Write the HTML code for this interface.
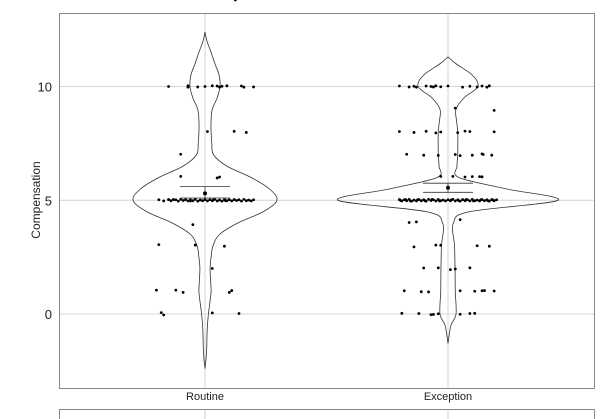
<!DOCTYPE html>
<html><head><meta charset="utf-8"><style>
body{margin:0;background:#fff;}
svg{display:block;font-family:"Liberation Sans",Arial,sans-serif;}
</style></head><body>
<svg id="chart" width="604" height="419" viewBox="0 0 604 419"></svg>
<script>
const categories=["Routine","Exception"];
const yTicks=[0,5,10];
const routineDensV=[12.4,12,11.5,11,10.5,10,9.5,9,8.5,8,7.5,7,6.5,6,5.5,5,4.5,4,3.5,3,2.5,2,1.5,1,0.5,0,-0.5,-1,-1.5,-2,-2.4];
const routineDensW=[0,0.008,0.025,0.041,0.058,0.062,0.05,0.03,0.025,0.025,0.028,0.035,0.09,0.19,0.265,0.296,0.24,0.135,0.06,0.033,0.025,0.021,0.023,0.025,0.02,0.014,0.01,0.008,0.007,0.004,0];
const exceptionDensV=[11.3,11,10.5,10,9.5,9,8.5,8,7,6.5,6,5.5,5,4.5,4,3,2,1,0,-0.5,-1.3];
const exceptionDensW=[0,0.033,0.1,0.123,0.066,0.033,0.035,0.04,0.04,0.037,0.045,0.24,0.453,0.09,0.022,0.027,0.029,0.03,0.033,0.012,0];
const routineJit=[-0.15,-0.07,-0.07,-0.03,0,0.03,0.05,0.06,0.07,0.09,0.15,0.16,0.2, 0.01,0.12,0.17, -0.1, -0.1,0.05,0.06, -0.05, -0.19,-0.04,0.08, 0.03, -0.2,-0.12,-0.09,0.1,0.11, -0.18,-0.17,0.03,0.14,
-0.19,-0.17,-0.15,-0.14,-0.12,-0.11,-0.1,-0.09,-0.08,-0.07,-0.06,-0.05,-0.04,-0.03,-0.02,-0.01,0,0.01,0.02,0.03,0.04,0.05,0.06,0.07,0.08,0.09,0.1,0.11,0.12,0.13,0.14,0.15,0.16,0.17,0.18,0.19,0.2,-0.13,-0.06,0.035,0.085,0.125];
const routineVal=[10,10.03,9.97,9.98,10,10.03,10.02,9.97,10.01,10.03,10.02,9.97,9.98, 8.02,8.03,7.98, 7.02, 6.05,5.98,6.02, 3.93, 3.05,3.03,2.98, 2, 1.05,1.05,0.95,0.95,1.03, 0.06,-0.04,0.05,0.02,
5.02,4.97,5.03,4.98,5.02,4.96,5.04,4.99,5.03,4.97,5.02,4.98,5.04,4.96,5.01,4.98,5.03,4.97,5.02,4.98,5.04,4.97,5.01,4.96,5.03,4.98,5.02,4.97,5.03,4.99,5.02,4.96,5.04,4.98,5.01,4.97,5.02,5.03,4.97,5.02,4.98];
const exceptionJit=[-0.2,-0.16,-0.14,-0.13,-0.09,-0.07,-0.06,-0.05,-0.03,0,0.06,0.09,0.12,0.14,0.16,0.17, 0.03,0.19, -0.2,-0.14,-0.09,-0.05,-0.03,0.04,0.07,0.09,0.19, -0.17,-0.1,-0.04,0.03,0.05,0.1,0.14,0.145,0.18, -0.03,0.02,0.07,0.1,0.13,0.14, -0.16,-0.13,0.05, -0.14,-0.05,-0.03,0.12,0.17, -0.1,-0.04,0.01,0.03,0.09, -0.18,-0.11,-0.08,0.05,0.11,0.14,0.15,0.19, -0.19,-0.12,-0.07,-0.06,-0.04,0.05,0.09,0.11,
-0.2,-0.19,-0.18,-0.17,-0.16,-0.15,-0.14,-0.13,-0.12,-0.11,-0.1,-0.09,-0.08,-0.07,-0.06,-0.05,-0.04,-0.03,-0.02,-0.01,0,0.01,0.02,0.03,0.04,0.05,0.06,0.07,0.08,0.09,0.1,0.11,0.12,0.13,0.14,0.15,0.16,0.17,0.18,0.19,0.2,-0.195,-0.175,-0.155,-0.125,-0.095,-0.065,-0.035,0.015,0.045,0.075,0.105,0.135,0.165,0.185];
const exceptionVal=[10.02,9.98,10.01,9.97,10.02,10,9.98,10.03,9.99,10.02,9.97,10.01,9.98,10.02,9.97,10.03, 9.05,8.95, 8.02,7.98,8.03,7.96,8,7.97,8.04,8.02,8.01, 7.02,6.98,6.97,7.01,6.96,6.98,7.04,7.01,6.98, 6.05,6.05,6.02,6.04,6.04,6.03, 4.02,4.05,4.15, 2.95,3.03,3.02,3,2.98, 2.02,2.03,1.95,1.98,2.03, 1.02,0.98,0.97,1.02,1,1.02,1.03,1.01, 0.03,0.02,-0.03,-0.02,0.01,-0.01,0.02,0.03,
5.03,4.97,5.02,4.98,5.04,4.96,5.01,4.97,5.03,4.98,5.02,4.96,5.04,4.99,5.02,4.97,5.03,4.98,5.01,4.97,5.02,4.98,5.04,4.97,5.02,4.96,5.03,4.98,5.02,4.97,5.04,4.98,5.01,4.97,5.03,4.98,5.02,4.96,5.03,4.98,5.02,4.99,5.03,4.97,5.02,4.98,5.04,4.97,5.02,4.98,5.03,4.97,5.02,4.98,5.01];
const meanVals=[5.3,5.55];
const ciHigh=[5.6,5.75];
const ciLow=[5.1,5.35];

const NS="http://www.w3.org/2000/svg";
const svg=document.getElementById("chart");
const L=59,R=594,T=13,B=388;
const catCenters=[205,448],catW=243;
const xPos=(i,j)=>catCenters[i]+j*catW;
const y=v=>314-v*22.75;
function mk(tag,attrs,parent){const e=document.createElementNS(NS,tag);for(const k in attrs)e.setAttribute(k,attrs[k]);(parent||svg).appendChild(e);return e;}

// bottom partial panel
const bp=mk("g",{});


mk("line",{x1:L,x2:R,y1:409.5,y2:409.5,stroke:"#888","stroke-width":1},bp);
mk("line",{x1:L+0.5,x2:L+0.5,y1:409,y2:419,stroke:"#888"},bp);
mk("line",{x1:R+0.5,x2:R+0.5,y1:409,y2:419,stroke:"#888"},bp);
catCenters.forEach(c=>mk("line",{x1:c,x2:c,y1:410,y2:419,stroke:"#ccc"},bp));

// grid
const grid=mk("g",{});


yTicks.forEach(t=>mk("line",{x1:L,x2:R,y1:y(t),y2:y(t),stroke:"#d4d4d4","stroke-width":1},grid));
catCenters.forEach(c=>mk("line",{x1:c,x2:c,y1:T,y2:B,stroke:"#d4d4d4","stroke-width":1},grid));

function smoothPath(pts){
  let d="M"+pts[0][0]+","+pts[0][1];
  for(let i=0;i<pts.length-1;i++){
    const p0=pts[Math.max(i-1,0)],p1=pts[i],p2=pts[i+1],p3=pts[Math.min(i+2,pts.length-1)];
    const c1=[p1[0]+(p2[0]-p0[0])/6,p1[1]+(p2[1]-p0[1])/6];
    const c2=[p2[0]-(p3[0]-p1[0])/6,p2[1]-(p3[1]-p1[1])/6];
    d+=" C"+c1[0]+","+c1[1]+" "+c2[0]+","+c2[1]+" "+p2[0]+","+p2[1];
  }
  return d;
}
function violin(i,vs,ws,name){
  const right=vs.map((v,k)=>[xPos(i,ws[k]),y(v)]);
  const left=vs.map((v,k)=>[xPos(i,-ws[k]),y(v)]).reverse();
  const d=smoothPath(right)+" "+smoothPath(left).replace(/^M/,"L")+" Z";
  const p=mk("path",{d:d,fill:"none",stroke:"#333","stroke-width":0.8});
  
  
}
violin(0,routineDensV,routineDensW,'violin-routine');
violin(1,exceptionDensV,exceptionDensW,'violin-exception');

function dots(i,js,vs,name){
  const g=mk("g",{});
  
  
  js.forEach((j,k)=>{const c=mk("circle",{cx:xPos(i,j),cy:y(vs[k]),r:1.4,fill:"#000"},g);
    
    });
}
dots(0,routineJit,routineVal,'points-routine');
dots(1,exceptionJit,exceptionVal,'points-exception');

meanVals.forEach((m,i)=>{
  const g=mk("g",{});
  
  
  const c=catCenters[i];
  mk("line",{x1:c-25,x2:c+25,y1:y(ciHigh[i]),y2:y(ciHigh[i]),stroke:"#333","stroke-width":0.8},g);
  mk("line",{x1:c-25,x2:c+25,y1:y(ciLow[i]),y2:y(ciLow[i]),stroke:"#333","stroke-width":0.8},g);
  mk("line",{x1:c,x2:c,y1:y(ciHigh[i]),y2:y(ciLow[i]),stroke:"#333","stroke-width":0.8},g);
  mk("circle",{cx:c,cy:y(m),r:2,fill:"#000"},g);
});

// frame
const fr=mk("rect",{x:L+0.5,y:T+0.5,width:R-L,height:B-T,fill:"none",stroke:"#888","stroke-width":1});



yTicks.forEach(t=>{const e=mk("text",{x:52,y:y(t)+5,"text-anchor":"end","font-size":13,fill:"#222"});e.textContent=t;
  
  });
categories.forEach((c,i)=>{const e=mk("text",{x:catCenters[i],y:400,"text-anchor":"middle","font-size":11,fill:"#222"});e.textContent=c;
  
  });
const yt=mk("text",{x:0,y:0,"text-anchor":"middle","font-size":12,fill:"#222",transform:"translate(40,200) rotate(-90)"});
yt.textContent="Compensation";


</script>
</body></html>
